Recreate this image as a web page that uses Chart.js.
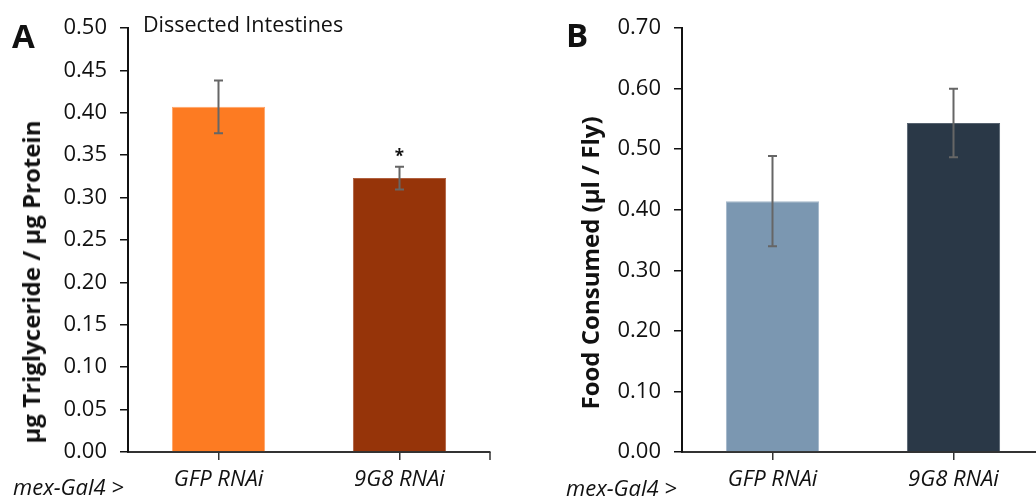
<!DOCTYPE html>
<html><head><meta charset="utf-8">
<script src="https://cdn.jsdelivr.net/npm/chart.js@4.4.1/dist/chart.umd.min.js"></script>
<style>
html,body{margin:0;padding:0;background:#fff;overflow:hidden;width:1036px;height:496px;position:relative;}
.t{position:absolute;font-family:"Open Sans",sans-serif;line-height:1;white-space:nowrap;color:#111;}
.rot{transform:translate(-50%,-50%) rotate(-90deg);}
canvas{position:absolute;top:0;}
</style></head><body>
<canvas id="cA" width="520" height="496" style="left:0px"></canvas>
<canvas id="cB" width="530" height="496" style="left:520px"></canvas>
<div class="t" style="left:12px;top:19px;font-size:33px;font-weight:700">A</div>
<div class="t" style="left:566px;top:18px;font-size:33px;font-weight:700">B</div>
<div class="t" style="left:143px;top:13px;font-size:21.5px">Dissected Intestines</div>
<div class="t" style="left:13px;top:475px;font-size:22px;font-style:italic">mex-Gal4 &gt;</div>
<div class="t" style="left:566px;top:476px;font-size:22px;font-style:italic">mex-Gal4 &gt;</div>
<div class="t rot" style="left:31px;top:282px;font-size:24px;font-weight:700">µg Triglyceride / µg Protein</div>
<div class="t rot" style="left:590px;top:263px;font-size:24px;font-weight:700">Food Consumed (µl / Fly)</div>
<script>
// ---- data ----
const categories = ['GFP RNAi', '9G8 RNAi'];
const trigMeans = [0.407, 0.323];
const trigErrors = [0.031, 0.0135];
const trigMarks = ['', '*'];
const foodMeans = [0.414, 0.543];
const foodErrors = [0.0745, 0.0565];
const foodMarks = ['', ''];
const trigAxis = [0, 0.5, 0.05];   // min, max, step
const foodAxis = [0, 0.7, 0.1];
const trigColors = ['#FD7B22', '#963409'];
const trigBorders = ['#FFA468', '#B0603F'];
const foodColors = ['#7B97B1', '#2A3847'];
const foodBorders = ['#A3B7C9', '#56626F'];

Chart.defaults.font.family = '"Open Sans", sans-serif';
Chart.defaults.color = '#111';

const errorBars = {
  id: 'errorBars',
  afterDatasetsDraw(chart, args, opts) {
    const ctx = chart.ctx, ys = chart.scales.y, xs = chart.scales.x;
    const meta = chart.getDatasetMeta(0);
    const vals = chart.data.datasets[0].data;
    ctx.save();
    meta.data.forEach((bar, i) => {
      const x = bar.x, v = vals[i], e = opts.errors[i];
      const yt = ys.getPixelForValue(v + e), yb = ys.getPixelForValue(v - e);
      ctx.strokeStyle = '#666'; ctx.lineWidth = 2;
      ctx.beginPath();
      ctx.moveTo(x, yt); ctx.lineTo(x, yb);
      ctx.moveTo(x - 4.5, yt); ctx.lineTo(x + 4.5, yt);
      ctx.moveTo(x - 4.5, yb); ctx.lineTo(x + 4.5, yb);
      ctx.stroke();
      if (opts.marks[i]) {
        ctx.fillStyle = '#111';
        ctx.font = '700 17px "Open Sans"';
        ctx.textAlign = 'center'; ctx.textBaseline = 'alphabetic';
        ctx.fillText(opts.marks[i], x, yt - 5);
      }
    });
    ctx.strokeStyle = '#333'; ctx.lineWidth = 1.5;
    ctx.beginPath(); ctx.moveTo(xs.right, xs.top); ctx.lineTo(xs.right, xs.top + 8); ctx.stroke();
    ctx.restore();
  }
};

function makeChart(id, means, errors, marks, axis, colors, borders, yWidth, padRight) {
  return new Chart(document.getElementById(id), {
    type: 'bar',
    data: {
      labels: categories,
      datasets: [{
        data: means,
        backgroundColor: colors,
        borderColor: borders,
        borderWidth: 1,
        barPercentage: 0.515,
        categoryPercentage: 1
      }]
    },
    options: {
      responsive: false,
      animation: false,
      devicePixelRatio: 1,
      layout: { padding: { top: 28, right: padRight, left: 0, bottom: 0 } },
      plugins: { legend: { display: false }, tooltip: { enabled: false }, errorBars: { errors: errors, marks: marks } },
      scales: {
        x: {
          ticks: { padding: 7, color: '#111', font: { size: 22, style: 'italic' } },
          grid: { display: true, drawOnChartArea: false, drawTicks: true, tickLength: 8, offset: false, color: '#333', lineWidth: 1.5 },
          border: { display: true, color: '#333', width: 2 },
          afterFit(s) { s.height = 44; s.paddingLeft = 0; s.paddingRight = 0; }
        },
        y: {
          min: axis[0], max: axis[1],
          ticks: { stepSize: axis[2], padding: 13, color: '#111', font: { size: 22 }, callback: v => Number(v).toFixed(2) },
          grid: { drawOnChartArea: false, drawTicks: true, tickLength: 8, color: '#111', lineWidth: 1.5 },
          border: { display: true, color: '#111', width: 2 },
          afterFit(s) { s.width = yWidth; s.paddingTop = 0; s.paddingBottom = 0; }
        }
      }
    },
    plugins: [errorBars]
  });
}

makeChart('cA', trigMeans, trigErrors, trigMarks, trigAxis, trigColors, trigBorders, 128, 30);
makeChart('cB', foodMeans, foodErrors, foodMarks, foodAxis, foodColors, foodBorders, 162, 6);
</script>
</body></html>
